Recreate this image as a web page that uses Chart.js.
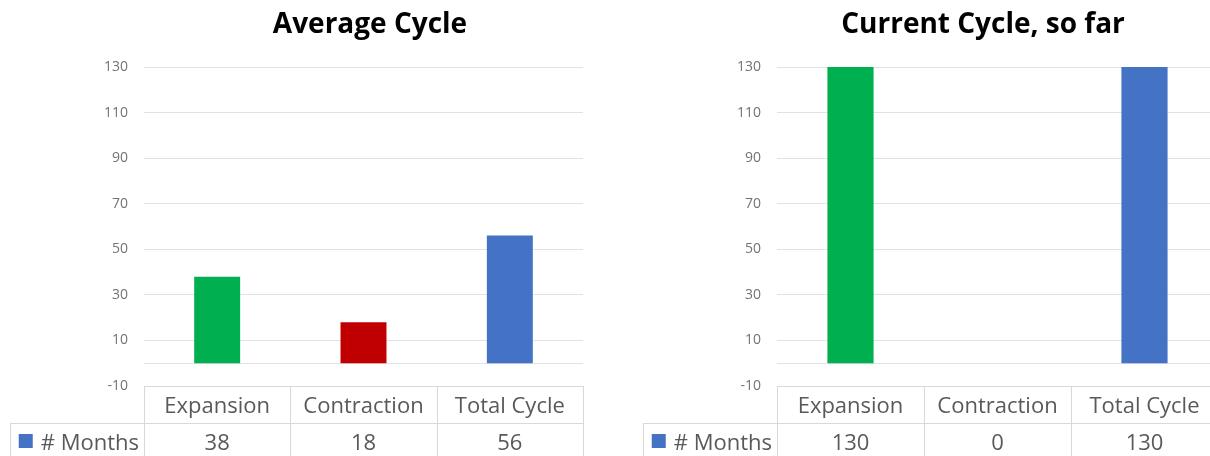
<!DOCTYPE html>
<html>
<head>
<meta charset="utf-8">
<script src="https://cdn.jsdelivr.net/npm/chart.js@4"></script>
<style>
    body { margin: 0; width: 1210px; height: 456px; overflow: hidden; background: #fff; position: relative; }
    canvas { position: absolute; top: 0; }
    #avgChart { left: 0; }
    #curChart { left: 620px; }
</style>
</head>
<body>
<canvas id="avgChart" width="605" height="456"></canvas>
<canvas id="curChart" width="620" height="456"></canvas>
<script>
const categories = ["Expansion", "Contraction", "Total Cycle"];
const averageMonths = [38, 18, 56];
const currentMonths = [130, 0, 130];
const barColors = ["#00b050", "#c00000", "#4472c4"];
const seriesLabel = "# Months";
const seriesColor = "#4472c4";
const yMin = -10;
const yMax = 130;
const yStep = 20;

const gridColor = "#e2e2e2";
const textColor = "#595959";

function hline(ctx, x1, x2, y) {
    ctx.beginPath();
    ctx.moveTo(x1, Math.round(y) + 0.5);
    ctx.lineTo(x2, Math.round(y) + 0.5);
    ctx.stroke();
}

function vline(ctx, x, y1, y2) {
    ctx.beginPath();
    ctx.moveTo(Math.round(x) + 0.5, y1);
    ctx.lineTo(Math.round(x) + 0.5, y2);
    ctx.stroke();
}

// title, zero line and the data table under the plot
const tablePlugin = {
    id: "dataTable",
    beforeDatasetsDraw(chart) {
        const { ctx, chartArea: a, scales: { y } } = chart;
        ctx.save();
        ctx.strokeStyle = gridColor;
        ctx.lineWidth = 1;
        hline(ctx, a.left, a.right, y.getPixelForValue(0));
        ctx.restore();
    },
    afterDraw(chart, args, opts) {
        const { ctx, chartArea: a, scales: { x } } = chart;
        const values = chart.data.datasets[0].data;
        const cw = (a.right - a.left) / categories.length;
        const top = a.bottom;
        const split = top + 37;
        const bottom = chart.height + 5;
        const rowLeft = a.left - 134;

        ctx.save();
        ctx.fillStyle = "#000";
        ctx.font = "bold 28px 'Open Sans'";
        ctx.textAlign = "center";
        ctx.textBaseline = "alphabetic";
        ctx.fillText(opts.title, opts.titleX, 33);

        ctx.strokeStyle = "#d9d9d9";
        ctx.lineWidth = 1;
        hline(ctx, a.left, a.right, top);
        hline(ctx, rowLeft, a.right, split);
        for (let i = 0; i <= categories.length; i++) {
            vline(ctx, a.left + i * cw, top, bottom);
        }
        vline(ctx, rowLeft, split, bottom);

        ctx.fillStyle = textColor;
        ctx.font = "22px 'Open Sans'";
        categories.forEach((c, i) => ctx.fillText(c, x.getPixelForValue(i), top + 27));
        values.forEach((v, i) => ctx.fillText(String(v), x.getPixelForValue(i), split + 27));

        ctx.textAlign = "right";
        const labelRight = a.left - 5;
        ctx.fillText(seriesLabel, labelRight, split + 27);
        const w = ctx.measureText(seriesLabel).width;
        ctx.fillStyle = seriesColor;
        ctx.fillRect(labelRight - w - 22, split + 11, 14, 14);
        ctx.restore();
    }
};

function makeChart(id, title, values, titleX, yWidth) {
    return new Chart(document.getElementById(id), {
        type: "bar",
        data: {
            labels: categories,
            datasets: [{
                label: seriesLabel,
                data: values,
                backgroundColor: barColors,
                categoryPercentage: 1,
                barPercentage: 0.314
            }]
        },
        options: {
            responsive: false,
            animation: false,
            layout: { padding: { top: 67, bottom: 70, left: 0, right: 22 } },
            plugins: {
                legend: { display: false },
                tooltip: { enabled: false },
                dataTable: { title: title, titleX: titleX }
            },
            scales: {
                x: { display: false },
                y: {
                    min: yMin,
                    max: yMax,
                    ticks: {
                        stepSize: yStep,
                        padding: 16,
                        color: "#737373",
                        font: { family: "Open Sans", size: 14 }
                    },
                    grid: { color: gridColor, drawTicks: false },
                    border: { display: false },
                    afterFit(scale) { scale.width = yWidth; }
                }
            }
        },
        plugins: [tablePlugin]
    });
}

makeChart("avgChart", "Average Cycle", averageMonths, 370, 144);
makeChart("curChart", "Current Cycle, so far", currentMonths, 363, 157);
</script>
</body>
</html>
